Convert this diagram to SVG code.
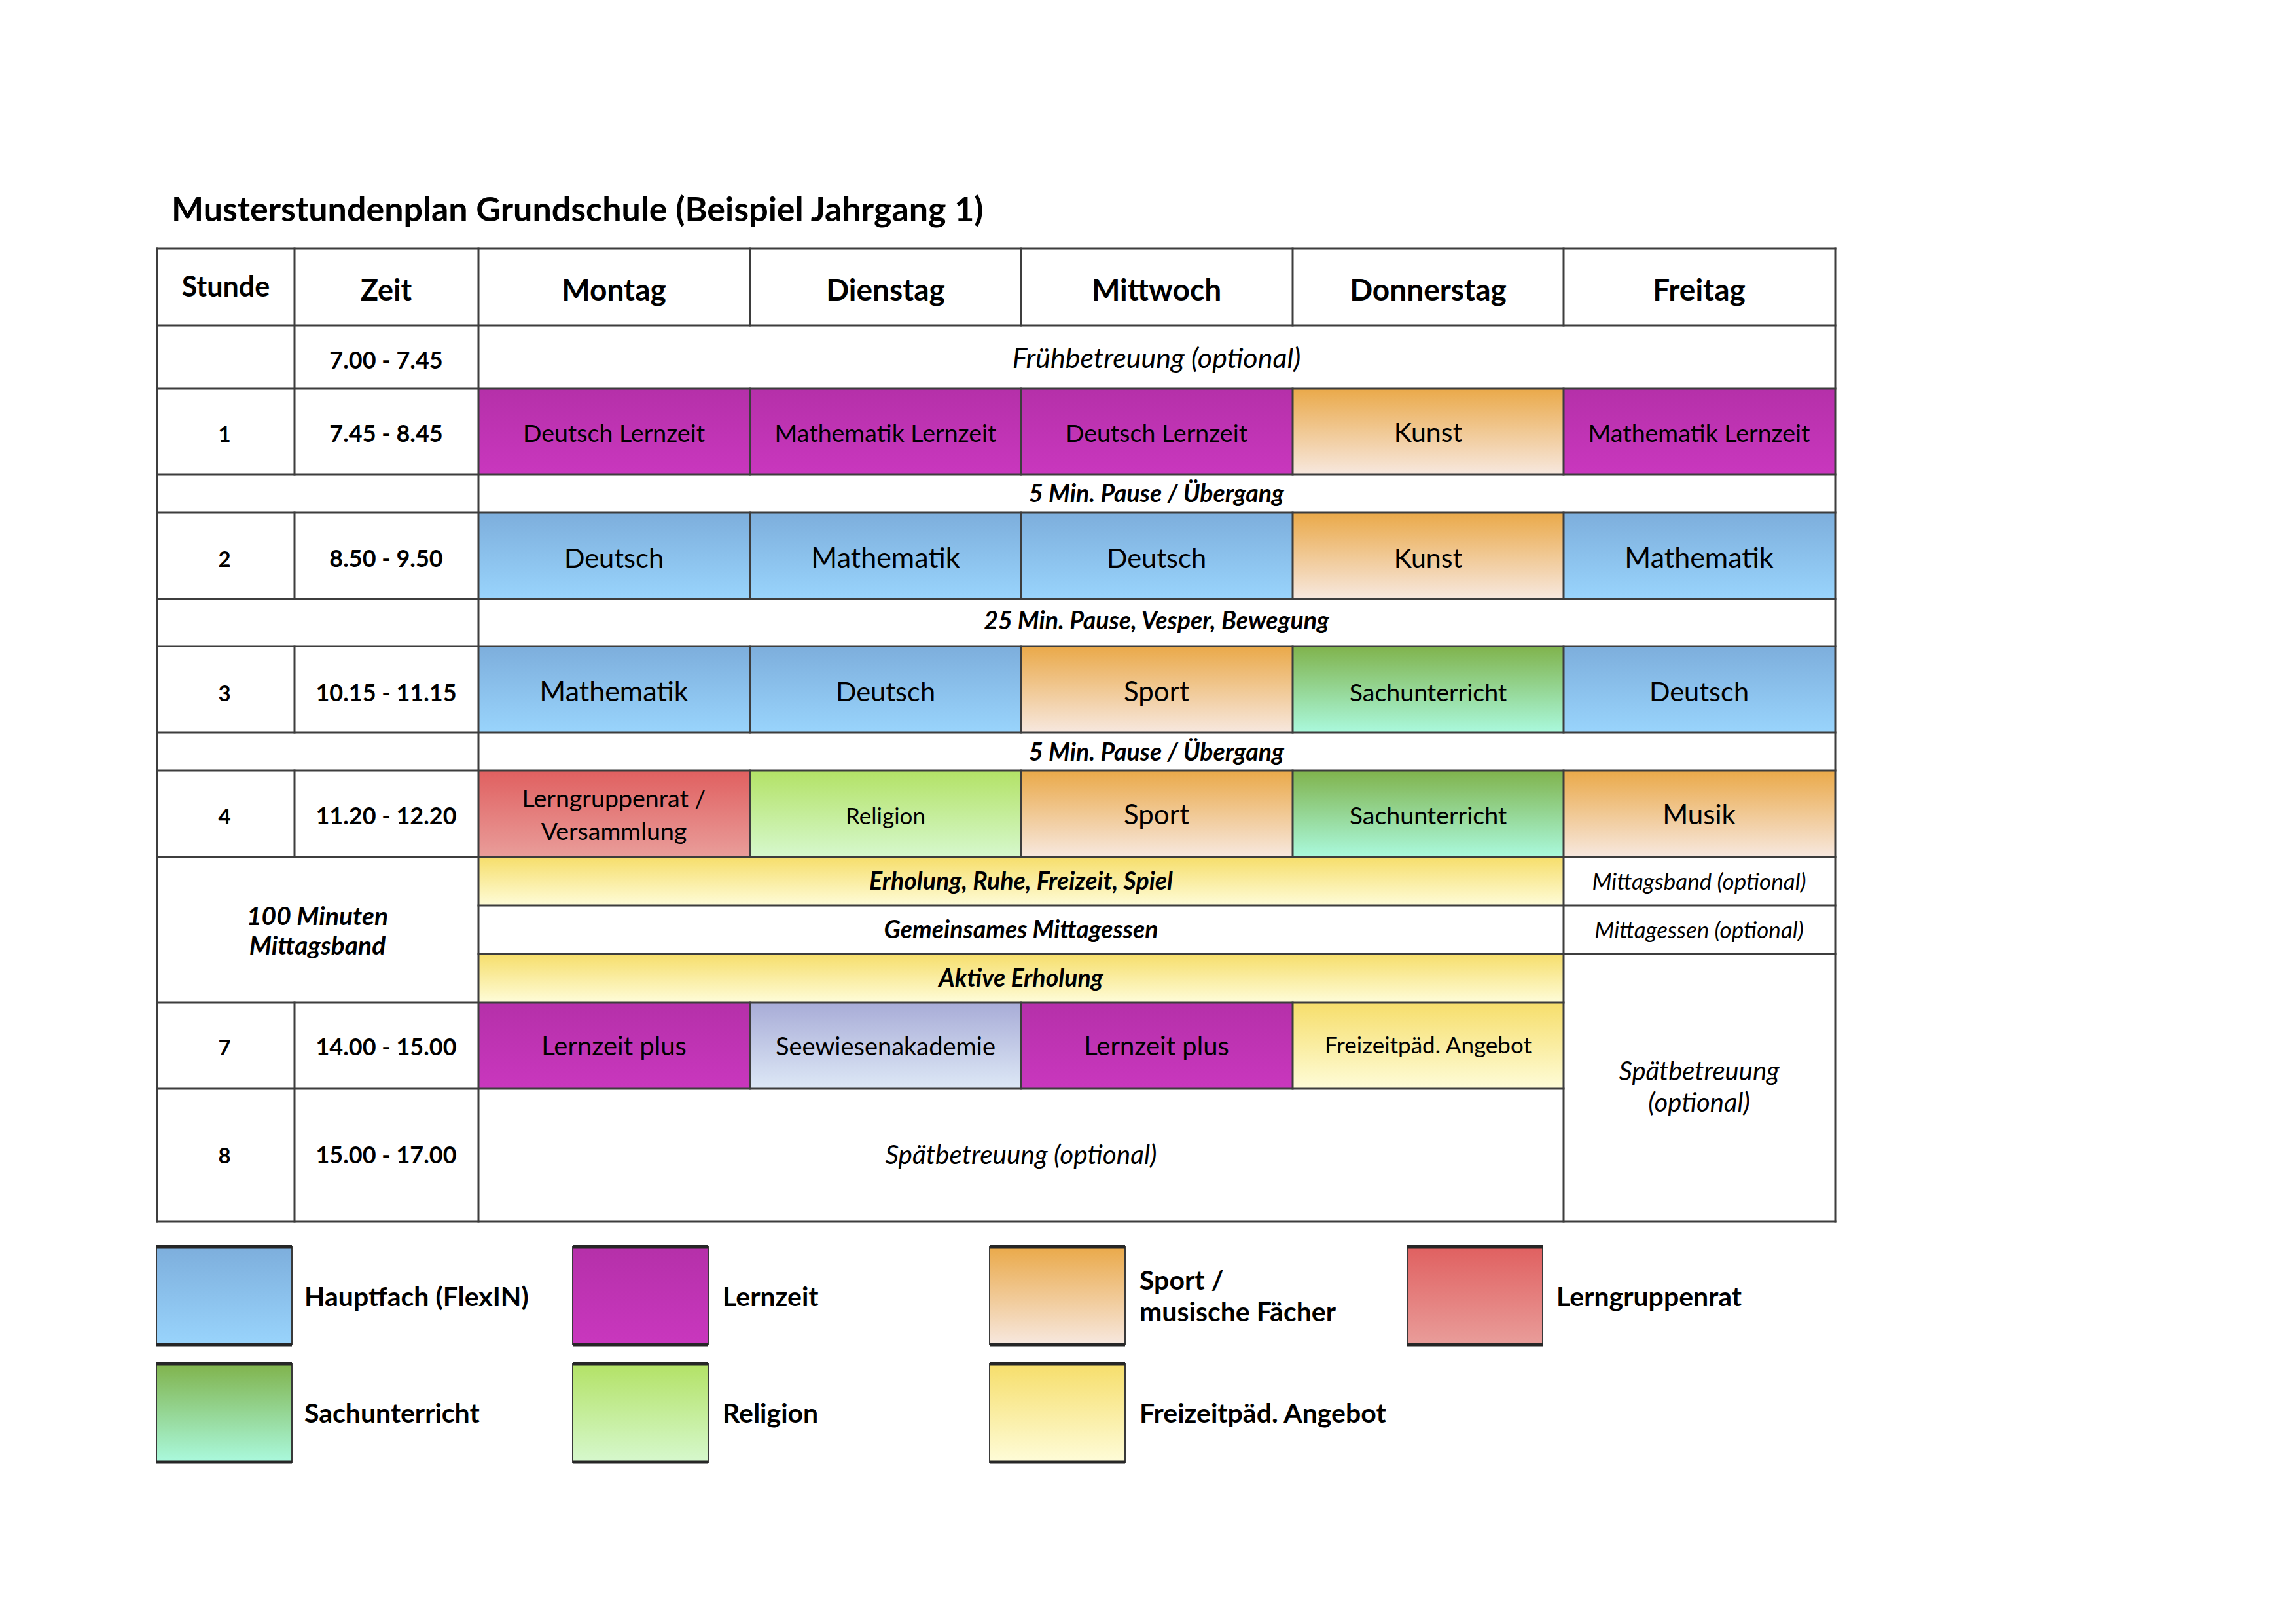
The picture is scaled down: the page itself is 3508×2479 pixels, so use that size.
<svg xmlns="http://www.w3.org/2000/svg" width="3508" height="2479" viewBox="0 0 3508 2479">
<defs>
<linearGradient id="gBlue" x1="0" y1="0" x2="0" y2="1"><stop offset="0" stop-color="#7DAEDC"/><stop offset="1" stop-color="#99D4FC"/></linearGradient>
<linearGradient id="gMag" x1="0" y1="0" x2="0" y2="1"><stop offset="0" stop-color="#B530A9"/><stop offset="1" stop-color="#C937BE"/></linearGradient>
<linearGradient id="gOrange" x1="0" y1="0" x2="0" y2="1"><stop offset="0" stop-color="#EAA949"/><stop offset="1" stop-color="#F7E8DF"/></linearGradient>
<linearGradient id="gRed" x1="0" y1="0" x2="0" y2="1"><stop offset="0" stop-color="#E06060"/><stop offset="1" stop-color="#E99D9A"/></linearGradient>
<linearGradient id="gGreen" x1="0" y1="0" x2="0" y2="1"><stop offset="0" stop-color="#80B34C"/><stop offset="1" stop-color="#AAF9DD"/></linearGradient>
<linearGradient id="gRelig" x1="0" y1="0" x2="0" y2="1"><stop offset="0" stop-color="#B3E266"/><stop offset="1" stop-color="#D6F8CD"/></linearGradient>
<linearGradient id="gYellow" x1="0" y1="0" x2="0" y2="1"><stop offset="0" stop-color="#F6DE6B"/><stop offset="1" stop-color="#FEFCD8"/></linearGradient>
<linearGradient id="gLav" x1="0" y1="0" x2="0" y2="1"><stop offset="0" stop-color="#A8ACD7"/><stop offset="1" stop-color="#DDE8F6"/></linearGradient>
</defs>
<style>
text{font-family:Lato,"Liberation Sans",sans-serif;fill:#000}
.c{text-anchor:middle}
.b{font-weight:bold}
.i{font-style:italic}
.grid line{stroke:#3d3d3d;stroke-width:3;stroke-linecap:square}
.lg{stroke:#3a3a3a;stroke-width:2}
.lgb{stroke:#262626;stroke-width:5}
.lt{font-weight:bold;font-size:41px}
</style>
<rect width="3508" height="2479" fill="#fff"/>

<text id="title" x="262" y="338" class="b" font-size="52">Musterstundenplan Grundschule (Beispiel Jahrgang 1)</text>

<!-- header -->
<g id="header">
<text x="345" y="453" class="c b" font-size="43">Stunde</text>
<text x="590" y="459" class="c b" font-size="45">Zeit</text>
<text x="938" y="459" class="c b" font-size="46">Montag</text>
<text x="1353" y="459" class="c b" font-size="46">Dienstag</text>
<text x="1767" y="459" class="c b" font-size="46">Mittwoch</text>
<text x="2182" y="459" class="c b" font-size="46">Donnerstag</text>
<text x="2596" y="459" class="c b" font-size="46">Freitag</text>
</g>

<!-- time column -->
<g id="times">
<text x="590" y="563" class="c b" font-size="36">7.00 - 7.45</text>
<text x="343" y="675" class="c b" font-size="33">1</text>
<text x="590" y="675" class="c b" font-size="36">7.45 - 8.45</text>
<text x="343" y="866" class="c b" font-size="33">2</text>
<text x="590" y="866" class="c b" font-size="36">8.50 - 9.50</text>
<text x="343" y="1071" class="c b" font-size="33">3</text>
<text x="590" y="1071" class="c b" font-size="36">10.15 - 11.15</text>
<text x="343" y="1259" class="c b" font-size="33">4</text>
<text x="590" y="1259" class="c b" font-size="36">11.20 - 12.20</text>
<text x="485" y="1413" class="c b i" font-size="39">100 Minuten</text>
<text x="485" y="1458" class="c b i" font-size="39">Mittagsband</text>
<text x="343" y="1612" class="c b" font-size="33">7</text>
<text x="590" y="1612" class="c b" font-size="36">14.00 - 15.00</text>
<text x="343" y="1777" class="c b" font-size="33">8</text>
<text x="590" y="1777" class="c b" font-size="36">15.00 - 17.00</text>
</g>

<g id="fruehbetreuung"><text x="1767" y="562" class="c i" font-size="43">Frühbetreuung (optional)</text></g>

<!-- row 1 -->
<g id="r1-mo"><rect x="731" y="593" width="415" height="132" fill="url(#gMag)"/><text x="938" y="675" class="c" font-size="37.5">Deutsch Lernzeit</text></g>
<g id="r1-di"><rect x="1146" y="593" width="414" height="132" fill="url(#gMag)"/><text x="1353" y="675" class="c" font-size="37.5">Mathematik Lernzeit</text></g>
<g id="r1-mi"><rect x="1560" y="593" width="415" height="132" fill="url(#gMag)"/><text x="1767" y="675" class="c" font-size="37.5">Deutsch Lernzeit</text></g>
<g id="r1-do"><rect x="1975" y="593" width="414" height="132" fill="url(#gOrange)"/><text x="2182" y="675" class="c" font-size="41">Kunst</text></g>
<g id="r1-fr"><rect x="2389" y="593" width="415" height="132" fill="url(#gMag)"/><text x="2596" y="675" class="c" font-size="37.5">Mathematik Lernzeit</text></g>

<g id="pause1"><text x="1767" y="767" class="c b i" font-size="37.5">5 Min. Pause / Übergang</text></g>

<!-- row 2 -->
<g id="r2-mo"><rect x="731" y="783" width="415" height="132" fill="url(#gBlue)"/><text x="938" y="867" class="c" font-size="41.5">Deutsch</text></g>
<g id="r2-di"><rect x="1146" y="783" width="414" height="132" fill="url(#gBlue)"/><text x="1353" y="867" class="c" font-size="43">Mathematik</text></g>
<g id="r2-mi"><rect x="1560" y="783" width="415" height="132" fill="url(#gBlue)"/><text x="1767" y="867" class="c" font-size="41.5">Deutsch</text></g>
<g id="r2-do"><rect x="1975" y="783" width="414" height="132" fill="url(#gOrange)"/><text x="2182" y="867" class="c" font-size="41">Kunst</text></g>
<g id="r2-fr"><rect x="2389" y="783" width="415" height="132" fill="url(#gBlue)"/><text x="2596" y="867" class="c" font-size="43">Mathematik</text></g>

<g id="pause2"><text x="1767" y="961" class="c b i" font-size="37.5">25 Min. Pause, Vesper, Bewegung</text></g>

<!-- row 3 -->
<g id="r3-mo"><rect x="731" y="987" width="415" height="132" fill="url(#gBlue)"/><text x="938" y="1071" class="c" font-size="43">Mathematik</text></g>
<g id="r3-di"><rect x="1146" y="987" width="414" height="132" fill="url(#gBlue)"/><text x="1353" y="1071" class="c" font-size="41.5">Deutsch</text></g>
<g id="r3-mi"><rect x="1560" y="987" width="415" height="132" fill="url(#gOrange)"/><text x="1767" y="1071" class="c" font-size="42">Sport</text></g>
<g id="r3-do"><rect x="1975" y="987" width="414" height="132" fill="url(#gGreen)"/><text x="2182" y="1071" class="c" font-size="37.5">Sachunterricht</text></g>
<g id="r3-fr"><rect x="2389" y="987" width="415" height="132" fill="url(#gBlue)"/><text x="2596" y="1071" class="c" font-size="41.5">Deutsch</text></g>

<g id="pause3"><text x="1767" y="1162" class="c b i" font-size="37.5">5 Min. Pause / Übergang</text></g>

<!-- row 4 -->
<g id="r4-mo"><rect x="731" y="1177" width="415" height="132" fill="url(#gRed)"/><text x="938" y="1233" class="c" font-size="37.5">Lerngruppenrat /</text><text x="938" y="1283" class="c" font-size="37.5">Versammlung</text></g>
<g id="r4-di"><rect x="1146" y="1177" width="414" height="132" fill="url(#gRelig)"/><text x="1353" y="1259" class="c" font-size="35">Religion</text></g>
<g id="r4-mi"><rect x="1560" y="1177" width="415" height="132" fill="url(#gOrange)"/><text x="1767" y="1259" class="c" font-size="42">Sport</text></g>
<g id="r4-do"><rect x="1975" y="1177" width="414" height="132" fill="url(#gGreen)"/><text x="2182" y="1259" class="c" font-size="37.5">Sachunterricht</text></g>
<g id="r4-fr"><rect x="2389" y="1177" width="415" height="132" fill="url(#gOrange)"/><text x="2596" y="1259" class="c" font-size="42">Musik</text></g>

<!-- Mittagsband -->
<g id="erholung"><rect x="731" y="1309" width="1658" height="74" fill="url(#gYellow)"/><text x="1560" y="1359" class="c b i" font-size="37.5">Erholung, Ruhe, Freizeit, Spiel</text></g>
<g id="mittagsband-opt"><text x="2596" y="1359" class="c i" font-size="35">Mittagsband (optional)</text></g>
<g id="mittagessen"><text x="1560" y="1433" class="c b i" font-size="37.5">Gemeinsames Mittagessen</text></g>
<g id="mittagessen-opt"><text x="2596" y="1433" class="c i" font-size="35">Mittagessen (optional)</text></g>
<g id="aktive-erholung"><rect x="731" y="1457" width="1658" height="74" fill="url(#gYellow)"/><text x="1560" y="1507" class="c b i" font-size="37.5">Aktive Erholung</text></g>
<g id="spaet-fr"><text x="2596" y="1650" class="c i" font-size="40">Spätbetreuung</text><text x="2596" y="1698" class="c i" font-size="40">(optional)</text></g>

<!-- row 7 -->
<g id="r7-mo"><rect x="731" y="1531" width="415" height="132" fill="url(#gMag)"/><text x="938" y="1612" class="c" font-size="40">Lernzeit plus</text></g>
<g id="r7-di"><rect x="1146" y="1531" width="414" height="132" fill="url(#gLav)"/><text x="1353" y="1612" class="c" font-size="38">Seewiesenakademie</text></g>
<g id="r7-mi"><rect x="1560" y="1531" width="415" height="132" fill="url(#gMag)"/><text x="1767" y="1612" class="c" font-size="40">Lernzeit plus</text></g>
<g id="r7-do"><rect x="1975" y="1531" width="414" height="132" fill="url(#gYellow)"/><text x="2182" y="1609" class="c" font-size="35">Freizeitpäd. Angebot</text></g>

<g id="spaet"><text x="1560" y="1778" class="c i" font-size="40.5">Spätbetreuung (optional)</text></g>

<!-- grid lines -->
<g id="connectors" class="grid">
<line x1="240" y1="380" x2="2804" y2="380"/>
<line x1="240" y1="497" x2="2804" y2="497"/>
<line x1="240" y1="593" x2="2804" y2="593"/>
<line x1="240" y1="725" x2="2804" y2="725"/>
<line x1="240" y1="783" x2="2804" y2="783"/>
<line x1="240" y1="915" x2="2804" y2="915"/>
<line x1="240" y1="987" x2="2804" y2="987"/>
<line x1="240" y1="1119" x2="2804" y2="1119"/>
<line x1="240" y1="1177" x2="2804" y2="1177"/>
<line x1="240" y1="1309" x2="2804" y2="1309"/>
<line x1="731" y1="1383" x2="2804" y2="1383"/>
<line x1="731" y1="1457" x2="2804" y2="1457"/>
<line x1="240" y1="1531" x2="2389" y2="1531"/>
<line x1="240" y1="1663" x2="2389" y2="1663"/>
<line x1="240" y1="1866" x2="2804" y2="1866"/>
<line x1="240" y1="380" x2="240" y2="1866"/>
<line x1="2804" y1="380" x2="2804" y2="1866"/>
<line x1="731" y1="380" x2="731" y2="1866"/>
<line x1="2389" y1="380" x2="2389" y2="497"/>
<line x1="2389" y1="593" x2="2389" y2="725"/>
<line x1="2389" y1="783" x2="2389" y2="915"/>
<line x1="2389" y1="987" x2="2389" y2="1119"/>
<line x1="2389" y1="1177" x2="2389" y2="1866"/>
<line x1="450" y1="380" x2="450" y2="725"/>
<line x1="450" y1="783" x2="450" y2="915"/>
<line x1="450" y1="987" x2="450" y2="1119"/>
<line x1="450" y1="1177" x2="450" y2="1309"/>
<line x1="450" y1="1531" x2="450" y2="1866"/>
<line x1="1146" y1="380" x2="1146" y2="497"/>
<line x1="1146" y1="593" x2="1146" y2="725"/>
<line x1="1146" y1="783" x2="1146" y2="915"/>
<line x1="1146" y1="987" x2="1146" y2="1119"/>
<line x1="1146" y1="1177" x2="1146" y2="1309"/>
<line x1="1146" y1="1531" x2="1146" y2="1663"/>
<line x1="1560" y1="380" x2="1560" y2="497"/>
<line x1="1560" y1="593" x2="1560" y2="725"/>
<line x1="1560" y1="783" x2="1560" y2="915"/>
<line x1="1560" y1="987" x2="1560" y2="1119"/>
<line x1="1560" y1="1177" x2="1560" y2="1309"/>
<line x1="1560" y1="1531" x2="1560" y2="1663"/>
<line x1="1975" y1="380" x2="1975" y2="497"/>
<line x1="1975" y1="593" x2="1975" y2="725"/>
<line x1="1975" y1="783" x2="1975" y2="915"/>
<line x1="1975" y1="987" x2="1975" y2="1119"/>
<line x1="1975" y1="1177" x2="1975" y2="1309"/>
<line x1="1975" y1="1531" x2="1975" y2="1663"/>
</g>

<!-- legend -->
<g id="legend-hauptfach"><rect x="239" y="1904" width="207" height="150" fill="url(#gBlue)" class="lg"/><line x1="239" y1="1904" x2="446" y2="1904" class="lgb"/><line x1="239" y1="2054" x2="446" y2="2054" class="lgb"/><text x="465" y="1995" class="lt">Hauptfach (FlexIN)</text></g>
<g id="legend-lernzeit"><rect x="875" y="1904" width="207" height="150" fill="url(#gMag)" class="lg"/><line x1="875" y1="1904" x2="1082" y2="1904" class="lgb"/><line x1="875" y1="2054" x2="1082" y2="2054" class="lgb"/><text x="1104" y="1995" class="lt">Lernzeit</text></g>
<g id="legend-sport"><rect x="1512" y="1904" width="207" height="150" fill="url(#gOrange)" class="lg"/><line x1="1512" y1="1904" x2="1719" y2="1904" class="lgb"/><line x1="1512" y1="2054" x2="1719" y2="2054" class="lgb"/><text x="1741" y="1970" class="lt">Sport /</text><text x="1741" y="2018" class="lt">musische Fächer</text></g>
<g id="legend-lerngruppenrat"><rect x="2150" y="1904" width="207" height="150" fill="url(#gRed)" class="lg"/><line x1="2150" y1="1904" x2="2357" y2="1904" class="lgb"/><line x1="2150" y1="2054" x2="2357" y2="2054" class="lgb"/><text x="2378" y="1995" class="lt">Lerngruppenrat</text></g>
<g id="legend-sachunterricht"><rect x="239" y="2083" width="207" height="150" fill="url(#gGreen)" class="lg"/><line x1="239" y1="2083" x2="446" y2="2083" class="lgb"/><line x1="239" y1="2233" x2="446" y2="2233" class="lgb"/><text x="465" y="2173" class="lt">Sachunterricht</text></g>
<g id="legend-religion"><rect x="875" y="2083" width="207" height="150" fill="url(#gRelig)" class="lg"/><line x1="875" y1="2083" x2="1082" y2="2083" class="lgb"/><line x1="875" y1="2233" x2="1082" y2="2233" class="lgb"/><text x="1104" y="2173" class="lt">Religion</text></g>
<g id="legend-freizeit"><rect x="1512" y="2083" width="207" height="150" fill="url(#gYellow)" class="lg"/><line x1="1512" y1="2083" x2="1719" y2="2083" class="lgb"/><line x1="1512" y1="2233" x2="1719" y2="2233" class="lgb"/><text x="1741" y="2173" class="lt">Freizeitpäd. Angebot</text></g>
</svg>
